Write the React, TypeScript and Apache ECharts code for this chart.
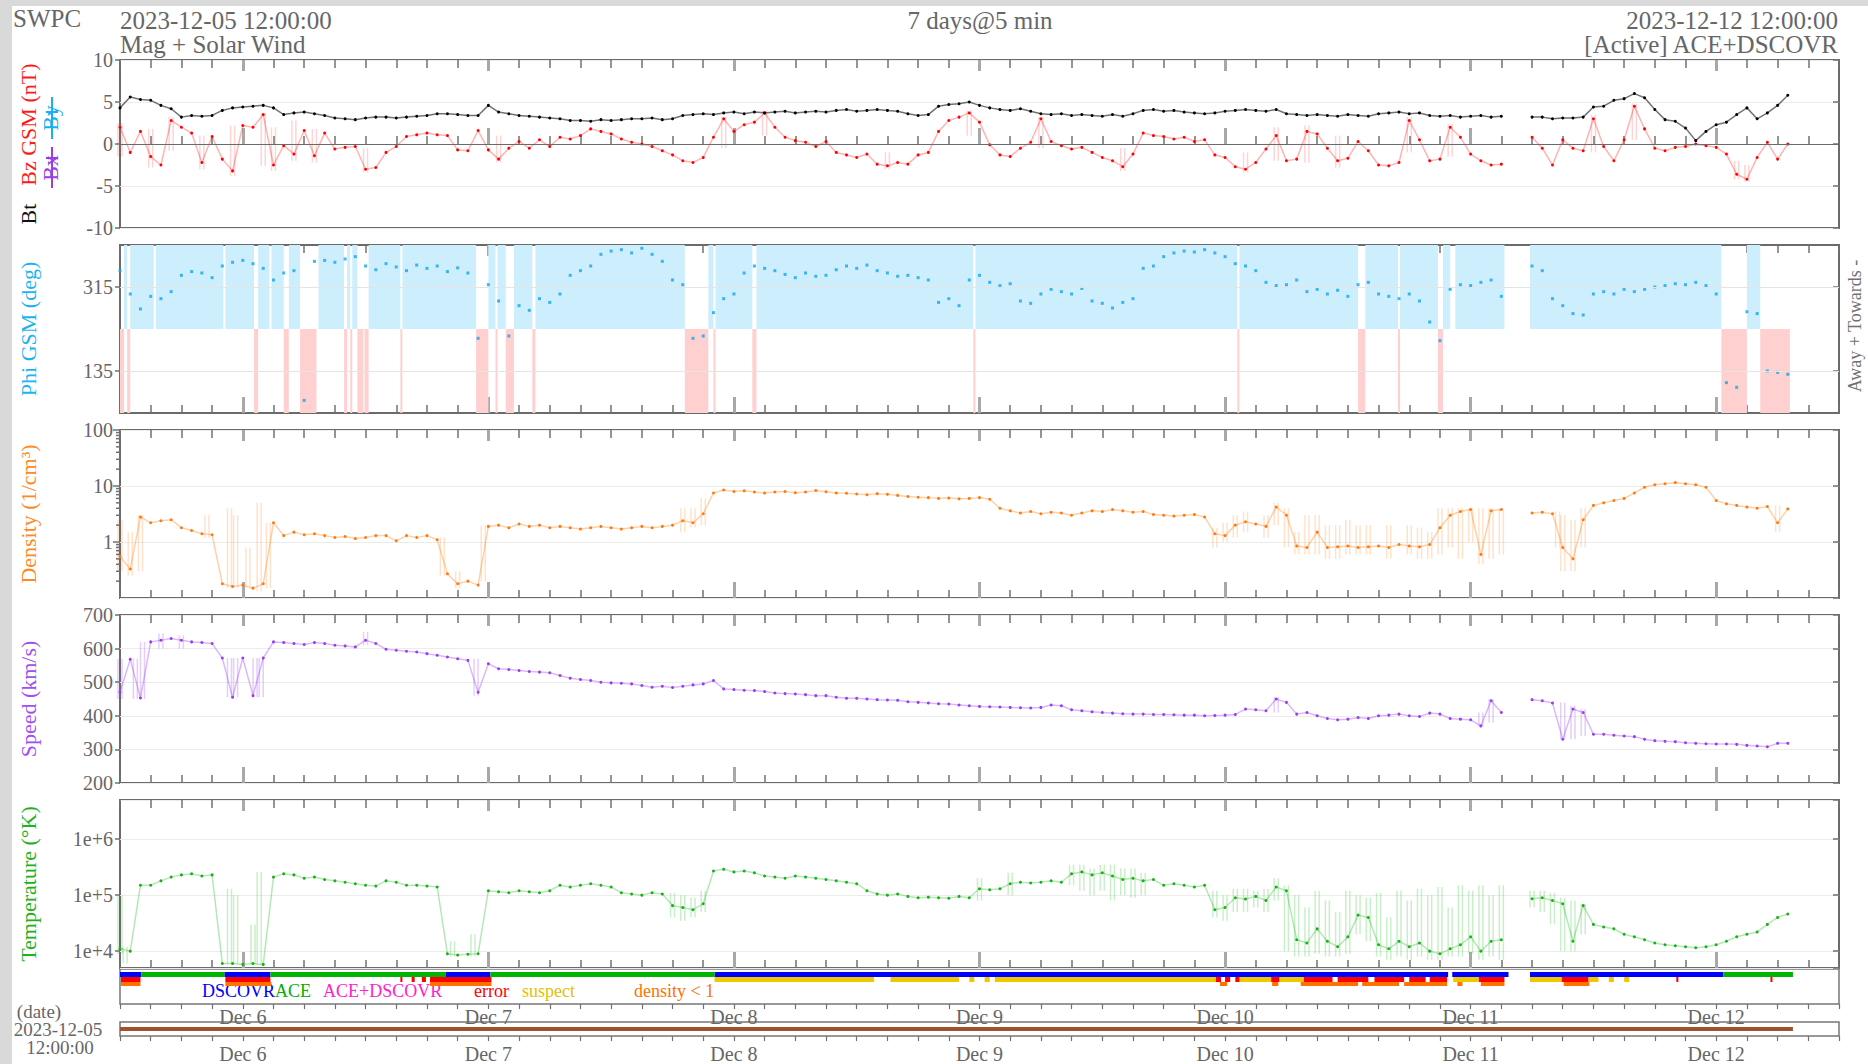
import React, { useEffect, useRef } from "react";
import * as echarts from "echarts";

const FONT = "'Liberation Serif', 'DejaVu Serif', serif";
const TXT = "#666666";

// x axis unit: hours since 2023-12-05 00:00
const START_HOUR = 12; // 2023-12-05 12:00
const END_HOUR = 180; // 2023-12-12 12:00
const dayTickHours = [24, 48, 72, 96, 120, 144, 168];
const dayLabels = ["Dec 6", "Dec 7", "Dec 8", "Dec 9", "Dec 10", "Dec 11", "Dec 12"];
const threeHourTicks: number[] = [];
for (let h = START_HOUR; h <= END_HOUR; h += 3) threeHourTicks.push(h);
const densityMinorTicks = [0.2, 0.3, 0.4, 0.5, 0.6, 0.7, 0.8, 0.9, 2, 3, 4, 5, 6, 7, 8, 9, 20, 30, 40, 50, 60, 70, 80, 90];

// hourly samples starting 2023-12-05 12:00 (index = hours after start)
const btValues = [
  4.3, 5.6, 5.3, 5.2, 4.6, 4.2, 3.2, 3.4, 3.3, 3.4,
  4.0, 4.3, 4.4, 4.5, 4.6, 4.3, 3.5, 3.7, 3.8, 3.6,
  3.4, 3.1, 3.0, 2.9, 3.1, 3.2, 3.2, 3.1, 3.2, 3.3,
  3.4, 3.6, 3.6, 3.5, 3.4, 3.4, 4.6, 3.8, 3.6, 3.4,
  3.3, 3.2, 3.1, 3.0, 2.8, 2.8, 2.7, 2.9, 2.8, 2.9,
  3.0, 3.0, 3.1, 2.9, 3.0, 3.4, 3.5, 3.6, 3.5, 3.7,
  3.8, 3.6, 3.8, 3.7, 3.8, 3.9, 3.7, 3.8, 3.9, 3.8,
  4.0, 4.1, 3.9, 4.0, 4.1, 4.0, 3.9, 3.6, 3.4, 3.5,
  4.5, 4.7, 4.8, 5.0, 4.6, 4.3, 4.1, 4.0, 4.2, 3.9,
  3.6, 3.5, 3.6, 3.4, 3.5, 3.4, 3.3, 3.5, 3.3, 3.6,
  4.0, 4.1, 3.9, 4.0, 3.8, 3.7, 3.6, 3.7, 3.9, 4.0,
  4.1, 4.0, 3.9, 4.1, 3.6, 3.5, 3.4, 3.5, 3.4, 3.3,
  3.5, 3.4, 3.3, 3.6, 3.7, 3.8, 3.6, 3.7, 3.4, 3.3,
  3.4, 3.2, 3.3, 3.4, 3.2, 3.3, null, null, 3.2, 3.2,
  3.0, 3.1, 3.1, 3.2, 4.4, 4.5, 5.2, 5.4, 6.0, 5.5,
  4.1, 2.9, 2.7, 1.9, 0.4, 1.5, 2.3, 2.6, 3.5, 4.3,
  3.0, 3.7, 4.6, 5.8,
];

const bzValues = [
  2.0, -1.0, 1.5, -1.5, -2.5, 2.8, 2.0, 1.3, -2.2, 0.9,
  -1.8, -3.2, 2.2, 2.0, 3.5, -2.5, -0.2, -1.2, 1.6, -1.4,
  1.3, -0.6, -0.4, -0.3, -3.0, -2.8, -1.0, -0.3, 0.9, 1.1,
  1.3, 1.1, 1.0, -0.7, -0.8, 1.6, -0.7, -1.8, -0.5, 0.3,
  -0.5, 0.5, -0.3, 0.8, 0.6, 1.0, 1.8, 1.5, 1.2, 0.6,
  0.2, 0.0, -0.3, -0.8, -1.3, -2.0, -2.2, -1.6, 0.8, 3.0,
  1.5, 2.3, 2.6, 3.7, 2.0, 0.8, 0.4, 0.2, -0.3, 0.3,
  -1.0, -1.3, -1.6, -1.2, -2.4, -2.6, -2.2, -2.4, -1.3, -1.0,
  1.5, 2.8, 3.2, 3.7, 2.6, -0.1, -1.3, -1.5, -0.5, 0.2,
  3.0, 0.3, -0.2, -0.6, -0.4, -1.0, -1.6, -2.0, -2.7, -1.2,
  1.3, 1.0, 0.9, 0.6, 0.8, 0.3, 0.5, -1.3, -1.6, -2.7,
  -3.0, -2.2, -0.6, 1.0, -2.0, -1.8, 1.5, 1.2, -0.5, -2.0,
  -1.7, 0.3, -0.8, -2.5, -2.6, -2.2, 2.8, 0.5, -2.0, -1.8,
  2.0, 0.8, -1.2, -2.0, -2.5, -2.4, null, null, 0.8, -0.5,
  -2.5, 0.5, -0.5, -0.8, 3.0, -0.3, -2.0, 0.5, 4.5, 1.8,
  -0.5, -0.8, -0.4, -0.3, 0.0, -0.2, -0.4, -1.2, -3.6, -4.2,
  -1.6, 0.2, -1.8, 0.0,
];

// Bz excursions seen as pale swings: [hour, low, high]
const bzRange = [
  [0, -1.5, 2.5], [3, -2.8, 1.8], [5, -0.8, 3.2], [8, -3.0, 1.0], [11, -3.8, 2.2], [14, -2.6, 3.6],
  [15, -3.2, 2.0], [17, -2.0, 2.8], [19, -2.2, 1.8], [24, -3.4, -0.5], [37, -2.2, 1.0], [59, -0.5, 3.2],
  [63, 1.0, 4.0], [75, -3.0, -1.0], [83, 1.0, 4.0], [90, -0.5, 3.2], [98, -3.2, -0.5], [110, -3.4, -1.0],
  [113, -2.0, 2.0], [116, -2.2, 2.2], [119, -2.8, 1.0], [126, -1.0, 3.2], [130, -1.5, 2.4],
  [144, -1.0, 3.5], [148, 0.5, 4.8], [158, -4.2, -2.0], [159, -4.5, -2.5],
];

const phiValues = [
  350, 300, 268, 295, 290, 305, 340, 348, 345, 335,
  360, 368, 372, 365, 355, 330, 345, 350, 72, 370,
  372, 368, 375, 380, 360, 352, 365, 358, 350, 362,
  355, 360, 348, 356, 345, 205, 320, 285, 210, 275,
  265, 290, 282, 300, 340, 350, 360, 385, 392, 395,
  388, 398, 385, 370, 330, 320, 205, 210, 260, 290,
  300, 345, 360, 355, 350, 342, 335, 345, 338, 340,
  352, 360, 355, 362, 350, 345, 338, 340, 335, 330,
  282, 290, 275, 330, 340, 325, 318, 322, 285, 280,
  300, 310, 305, 300, 312, 285, 280, 270, 282, 290,
  355, 360, 380, 388, 392, 390, 395, 388, 380, 365,
  360, 350, 325, 318, 320, 330, 305, 310, 300, 308,
  295, 320, 325, 300, 295, 290, 300, 285, 240, 200,
  310, 320, 318, 325, 330, 295, null, null, 360, 350,
  290, 275, 258, 255, 300, 305, 300, 310, 305, 310,
  315, 318, 322, 320, 325, 318, 300, 110, 100, 262,
  258, 135, 132, 128,
];

// IMF sector shading intervals (hours after start)
const phiAway = [
  [0.4, 0.7], [1.0, 3.3], [3.5, 10.1], [10.3, 13.1], [13.5, 14.6], [14.8, 16.0], [16.5, 17.6],
  [19.4, 21.9], [22.2, 22.5], [22.7, 23.2], [24.3, 27.4], [27.6, 34.8], [36.0, 36.7], [36.9, 37.7],
  [38.5, 40.3], [40.6, 55.2], [57.5, 58.0], [58.2, 61.8], [62.2, 83.4], [83.6, 109.2], [109.4, 121.0],
  [121.7, 124.9], [125.1, 128.8], [129.3, 130.0], [130.5, 135.3], [137.8, 156.5], [159.0, 160.3],
];
const phiTowards = [
  [0, 0.4], [0.7, 1.0], [13.1, 13.5], [16.0, 16.5], [17.6, 19.2], [21.9, 22.2], [22.5, 22.7],
  [23.2, 23.8], [23.9, 24.3], [27.4, 27.6], [34.8, 36.0], [36.7, 36.9], [37.7, 38.5], [40.3, 40.6],
  [55.2, 57.5], [58.0, 58.2], [61.8, 62.2], [83.4, 83.6], [109.2, 109.4], [121.0, 121.7],
  [124.9, 125.1], [128.8, 129.3], [156.5, 159.0], [160.3, 163.2],
];

const densityValues = [
  0.55, 0.33, 2.8, 2.2, 2.4, 2.5, 1.8, 1.6, 1.4, 1.35,
  0.18, 0.16, 0.17, 0.15, 0.18, 2.2, 1.3, 1.5, 1.35, 1.4,
  1.3, 1.2, 1.25, 1.15, 1.2, 1.3, 1.3, 1.05, 1.3, 1.2,
  1.3, 1.1, 0.27, 0.18, 0.2, 0.17, 1.9, 2.0, 1.8, 2.1,
  1.9, 2.0, 1.8, 1.9, 1.8, 1.7, 1.8, 1.9, 1.8, 1.7,
  1.8, 1.9, 1.8, 1.9, 2.0, 2.4, 2.2, 3.2, 7.5, 8.5,
  8.0, 8.2, 7.8, 7.5, 7.8, 8.0, 7.6, 7.8, 8.3, 7.9,
  7.5, 7.4, 7.2, 7.0, 7.3, 7.1, 6.8, 6.5, 6.3, 6.2,
  6.0, 6.1, 5.9, 6.0, 6.2, 5.8, 4.0, 3.6, 3.3, 3.5,
  3.2, 3.4, 3.3, 3.0, 3.3, 3.6, 3.5, 3.8, 3.6, 3.4,
  3.5, 3.1, 3.0, 2.9, 3.0, 3.1, 2.8, 1.4, 1.3, 2.0,
  2.3, 2.1, 1.9, 4.2, 3.0, 0.85, 0.8, 1.5, 0.8, 0.82,
  0.85, 0.8, 0.82, 0.85, 0.8, 0.9, 0.85, 0.82, 0.9, 1.8,
  3.0, 3.5, 3.8, 0.6, 3.6, 3.8, null, null, 3.3, 3.4,
  3.2, 0.8, 0.5, 2.5, 4.5, 5.0, 5.5, 6.0, 7.5, 9.5,
  10.5, 11, 11.5, 11, 10.5, 9.5, 5.5, 4.8, 4.5, 4.2,
  4.0, 4.3, 2.2, 3.9,
];

const densityRange = [
  [0, 0.3, 2.5], [1, 0.25, 1.5], [2, 0.3, 3], [8.5, 1.2, 3], [10.7, 0.15, 4], [11.3, 0.15, 3],
  [12.5, 0.15, 0.8], [13.6, 0.13, 5], [14.5, 0.15, 2.2], [31.5, 0.25, 1.2], [33, 0.15, 0.3],
  [35.5, 0.2, 2], [55, 1.5, 4], [56, 1.8, 4], [57, 2, 6], [107, 0.8, 1.8], [108, 1.0, 2.2],
  [109, 1.2, 3], [110, 1.5, 3.5], [112, 1.2, 3], [113, 2, 5], [114, 0.8, 4], [115, 0.6, 1.5],
  [116, 0.6, 3], [117, 0.6, 3], [118, 0.5, 2], [119, 0.5, 2], [120, 0.6, 2.5], [121, 0.6, 2],
  [122, 0.6, 2], [124, 0.5, 2], [126, 0.6, 2], [127, 0.5, 1.8], [128, 0.5, 1.5], [129, 0.6, 4],
  [130, 0.8, 4], [131, 0.5, 4], [132, 1, 4], [133, 0.4, 4], [134, 0.5, 4], [135, 0.6, 4],
  [140.5, 0.8, 3.5], [141, 0.3, 3], [142, 0.3, 2.5], [143, 0.8, 4], [162, 1.5, 4.5],
];

const speedValues = [
  470, 568, 453, 620, 625, 630, 625, 620, 618, 615,
  572, 455, 572, 460, 572, 620, 618, 615, 612, 618,
  615, 610, 608, 605, 625, 615, 598, 595, 592, 590,
  585, 580, 575, 570, 565, 470, 555, 540, 538, 535,
  532, 530, 528, 520, 512, 508, 505, 500, 498, 497,
  495, 490, 485, 488, 484, 488, 492, 495, 505, 480,
  478, 476, 475, 472, 468, 466, 465, 463, 460, 460,
  455, 452, 452, 450, 448, 447, 446, 442, 440, 438,
  436, 435, 432, 430, 428, 427, 426, 425, 424, 423,
  425, 432, 430, 418, 415, 412, 410, 408, 406, 405,
  405, 404, 404, 403, 402, 402, 400, 401, 402, 404,
  420, 418, 415, 450, 440, 405, 410, 400, 392, 388,
  390, 395, 392, 400, 402, 405, 400, 398, 408, 405,
  392, 390, 388, 370, 445, 410, null, null, 448, 445,
  438, 330, 420, 410, 345, 345, 342, 340, 338, 330,
  326, 324, 323, 320, 318, 317, 316, 316, 315, 312,
  310, 308, 318, 318,
];

const speedRange = [
  [0, 450, 570], [1.5, 450, 570], [2.2, 450, 620], [4, 600, 645], [6, 600, 640], [10.7, 455, 572],
  [11.3, 455, 572], [13.2, 455, 572], [13.8, 455, 572], [24, 610, 650], [34.8, 460, 570],
  [113, 410, 455], [133, 370, 410], [134, 380, 450], [141, 330, 440], [142, 330, 430], [143, 340, 420],
];

const temperatureValues = [
  1.1e4, 1.0e4, 1.5e5, 1.5e5, 1.8e5, 2.1e5, 2.3e5, 2.4e5, 2.2e5, 2.3e5,
  6000, 6000, 5800, 6000, 5800, 2.1e5, 2.4e5, 2.3e5, 2.0e5, 2.1e5,
  1.9e5, 1.8e5, 1.7e5, 1.6e5, 1.5e5, 1.45e5, 1.8e5, 1.7e5, 1.5e5, 1.5e5,
  1.45e5, 1.4e5, 9000, 8500, 8800, 9000, 1.2e5, 1.15e5, 1.1e5, 1.2e5,
  1.15e5, 1.1e5, 1.2e5, 1.5e5, 1.4e5, 1.5e5, 1.6e5, 1.5e5, 1.4e5, 1.1e5,
  1.05e5, 1.0e5, 1.1e5, 1.05e5, 6.5e4, 6.0e4, 5.5e4, 7.0e4, 2.7e5, 2.9e5,
  2.6e5, 2.7e5, 2.5e5, 2.2e5, 2.1e5, 2.0e5, 2.2e5, 2.1e5, 2.0e5, 1.9e5,
  1.8e5, 1.7e5, 1.6e5, 1.2e5, 1.05e5, 1.0e5, 1.05e5, 9.5e4, 9.0e4, 9.2e4,
  9.0e4, 8.8e4, 9.5e4, 9.0e4, 1.3e5, 1.25e5, 1.3e5, 1.6e5, 1.7e5, 1.65e5,
  1.7e5, 1.8e5, 1.7e5, 2.4e5, 2.6e5, 2.3e5, 2.5e5, 2.2e5, 1.9e5, 2.0e5,
  1.8e5, 1.9e5, 1.5e5, 1.6e5, 1.5e5, 1.4e5, 1.5e5, 5.5e4, 6.0e4, 9.0e4,
  8.5e4, 9.5e4, 8.0e4, 1.4e5, 1.2e5, 1.6e4, 1.4e4, 2.5e4, 1.5e4, 1.2e4,
  1.8e4, 4.4e4, 4.0e4, 1.3e4, 1.1e4, 1.5e4, 1.2e4, 1.4e4, 1.0e4, 9.0e3,
  1.1e4, 1.3e4, 1.8e4, 1.0e4, 1.5e4, 1.6e4, null, null, 8.6e4, 9.0e4,
  8.0e4, 7.0e4, 1.5e4, 6.5e4, 3.0e4, 2.7e4, 2.5e4, 2.0e4, 1.8e4, 1.6e4,
  1.4e4, 1.3e4, 1.25e4, 1.2e4, 1.15e4, 1.2e4, 1.3e4, 1.5e4, 1.8e4, 2.0e4,
  2.2e4, 3.0e4, 4.0e4, 4.6e4,
];

const temperatureRange = [
  [0, 9000, 1.0e5], [0.5, 6000, 1.2e4], [10.7, 5800, 1.3e5], [11.3, 5800, 1.0e5], [13.0, 5800, 3e4],
  [13.6, 5800, 2.6e5], [32.5, 8000, 1.5e4], [34.5, 8000, 2e4], [54, 4e4, 1.1e5], [55, 3.5e4, 1e5],
  [56, 4e4, 9e4], [57, 5e4, 1.2e5], [84, 8e4, 2e5], [87, 1e5, 2.5e5], [93, 1.5e5, 3.5e5],
  [94, 1.2e5, 3.5e5], [95, 1.0e5, 3e5], [96, 1.2e5, 3.5e5], [97, 8e4, 3.5e5], [98, 1e5, 3e5],
  [99, 9e4, 3e5], [100, 1e5, 2.5e5], [107, 4e4, 1.2e5], [108, 3.5e4, 1e5], [109, 5e4, 1.3e5],
  [110, 5e4, 1.3e5], [111, 6e4, 1.2e5], [112, 5e4, 1.3e5], [113, 8e4, 2e5], [114, 1e4, 1.5e5],
  [115, 8000, 1e5], [116, 8000, 6e4], [117, 9000, 1.2e5], [118, 8000, 8e4], [119, 8000, 5e4],
  [120, 9000, 1.2e5], [121, 2e4, 1e5], [122, 1.5e4, 9e4], [123, 8000, 1.1e5], [124, 7000, 4e4],
  [125, 8000, 1.2e5], [126, 7000, 8e4], [127, 8000, 1.3e5], [128, 7000, 1e5], [129, 7000, 1.4e5],
  [130, 8000, 6e4], [131, 8000, 1.5e5], [132, 9000, 1.2e5], [133, 7000, 1.5e5], [134, 8000, 1e5],
  [135, 7000, 1.5e5], [138, 6e4, 1.2e5], [139, 5e4, 1.2e5], [140, 3e4, 1.1e5], [141, 1e4, 9e4],
  [142, 1e4, 8e4], [143, 2e4, 7e4],
];

// spacecraft source and data quality intervals (hours after start)
const sourceDscovr = [[0, 2.1], [10.2, 14.7], [31.8, 36.2], [58.1, 129.8], [130.2, 135.7], [137.8, 156.7]];
const sourceAce = [[2.1, 10.2], [14.7, 31.8], [36.2, 58.1], [156.7, 163.5]];
const flagSuspect = [
  [58.1, 73.7], [75.3, 82.0], [83.0, 83.5], [84.5, 85.0], [85.5, 107.1], [109.4, 112.5],
  [113.3, 115.7], [130.3, 132.8], [137.8, 140.9], [143.5, 144.5], [145.5, 146.0], [147.0, 147.5],
];
const flagError = [
  [0.1, 2.0], [10.3, 14.7], [27.4, 27.6], [28.5, 28.8], [29.5, 29.9], [30.3, 36.3], [107.1, 107.6],
  [108.0, 108.5], [109.0, 109.4], [112.5, 113.3], [115.7, 118.5], [119.0, 122.0], [122.6, 125.5],
  [126.0, 127.6], [128.0, 129.7], [132.8, 135.3], [140.9, 143.5], [152.1, 152.3], [161.3, 161.5],
];
const flagLowDensity = [
  [0.1, 2.0], [10.3, 14.8], [30.3, 36.3], [107.5, 108.2], [112.6, 113.2], [115.4, 121.0],
  [121.4, 125.0], [125.5, 129.7], [130.7, 131.2], [133.0, 135.3], [141.1, 143.6],
];
const dateCoverage = [0, 163.5];

const GRID_LEFT = 120;
const GRID_WIDTH = 1719;
const PANEL_TOPS = [60, 245, 430, 615, 800];
const PANEL_H = 168;

function pairs(vals: (number | null)[]) {
  return vals.map((v, i) => [START_HOUR + i, v]);
}

function buildOption() {
  const grids: any[] = PANEL_TOPS.map((top) => ({
    left: GRID_LEFT, top, width: GRID_WIDTH, height: PANEL_H, show: true,
    borderColor: "#6b6b6b", borderWidth: 2, backgroundColor: "transparent",
  }));
  grids.push({ left: GRID_LEFT, top: 969, width: GRID_WIDTH, height: 35, show: true, borderColor: "#777", borderWidth: 1.5, backgroundColor: "transparent" });
  grids.push({ left: GRID_LEFT, top: 1022, width: GRID_WIDTH, height: 14, show: true, borderColor: "#777", borderWidth: 1.5, backgroundColor: "transparent" });

  const xAxes: any[] = [];
  const mainX: number[] = [];
  const baseX = (gi: number) => ({
    type: "value", gridIndex: gi, min: START_HOUR, max: END_HOUR,
    axisLine: { show: false }, splitLine: { show: false }, axisLabel: { show: false },
  });
  const tick = (values: number[], len: number, inside: boolean, color: string, width: number) => ({
    show: true, inside, length: len, customValues: values, lineStyle: { color, width },
  });
  for (let gi = 0; gi < 5; gi++) {
    mainX.push(xAxes.length);
    xAxes.push({ ...baseX(gi), position: "bottom", axisTick: tick(threeHourTicks, 8, true, "#707070", 1.5) });
    xAxes.push({ ...baseX(gi), position: "bottom", axisTick: tick(dayTickHours, 16, true, "#a8a8a8", 3) });
    xAxes.push({ ...baseX(gi), position: "top", axisTick: tick(threeHourTicks, 8, true, "#707070", 1.5) });
    xAxes.push({ ...baseX(gi), position: "top", axisTick: tick(dayTickHours, 11, true, "#a8a8a8", 3) });
  }
  const dayLabel = (margin: number) => ({
    show: true, customValues: dayTickHours, margin, fontSize: 20, fontFamily: FONT, color: TXT,
    formatter: (v: number) => dayLabels[dayTickHours.indexOf(Math.round(v))] || "",
  });
  mainX.push(xAxes.length);
  xAxes.push({ ...baseX(5), position: "bottom", axisTick: tick(threeHourTicks, 5, false, "#707070", 1.2), axisLabel: dayLabel(3) });
  mainX.push(xAxes.length);
  xAxes.push({ ...baseX(6), position: "bottom", axisTick: tick(threeHourTicks, 5, false, "#707070", 1.2), axisLabel: dayLabel(8) });

  const yAxes: any[] = [];
  const leftY: number[] = [];
  const labelStyle = { color: TXT, fontSize: 20, fontFamily: FONT, margin: 7 };
  const leftTick = { show: true, inside: false, length: 5, lineStyle: { color: "#707070", width: 1.5 } };
  const rightTick = { show: true, inside: true, length: 6, lineStyle: { color: "#707070", width: 1.5 } };
  const split = { show: true, lineStyle: { color: "#ececec", width: 1 } };
  const nameCommon = (name: string, color: string) => ({
    name, nameLocation: "middle", nameGap: 81, nameRotate: 90,
    nameTextStyle: { color, fontSize: 22, fontFamily: FONT },
  });

  // panel 1: Bt / Bz
  leftY[0] = yAxes.length;
  yAxes.push({
    type: "value", gridIndex: 0, position: "left", min: -10, max: 10, interval: 5,
    axisLine: { show: false }, axisTick: leftTick, axisLabel: labelStyle, splitLine: split,
    name: "{k|Bt}{s| }{r|Bz GSM (nT)}", nameLocation: "middle", nameGap: 81, nameRotate: 90,
    nameTextStyle: {
      fontSize: 22, fontFamily: FONT,
      rich: {
        k: { color: "#111", fontSize: 22, fontFamily: FONT },
        s: { width: 18, fontSize: 22 },
        r: { color: "#ff1a1a", fontSize: 22, fontFamily: FONT },
      },
    },
  });
  yAxes.push({ type: "value", gridIndex: 0, position: "right", min: -10, max: 10, interval: 5, axisLine: { show: false }, axisTick: rightTick, axisLabel: { show: false }, splitLine: { show: false } });

  // panel 2: Phi
  leftY[1] = yAxes.length;
  yAxes.push({
    type: "value", gridIndex: 1, position: "left", min: 45, max: 405,
    axisLine: { show: false }, axisTick: { ...leftTick, customValues: [135, 315] },
    axisLabel: { ...labelStyle, customValues: [135, 315] }, splitLine: { show: false },
    ...nameCommon("Phi GSM (deg)", "#1ab4f2"),
  });
  yAxes.push({ type: "value", gridIndex: 1, position: "right", min: 45, max: 405, axisLine: { show: false }, axisTick: { ...rightTick, customValues: [135, 315] }, axisLabel: { show: false }, splitLine: { show: false } });

  // panel 3: density (log)
  leftY[2] = yAxes.length;
  yAxes.push({
    type: "log", logBase: 10, gridIndex: 2, position: "left", min: 0.1, max: 100,
    axisLine: { show: false }, axisTick: { ...leftTick, length: 7 },
    axisLabel: { ...labelStyle, showMinLabel: false, formatter: (v: number) => String(Math.round(v * 1000) / 1000) },
    splitLine: split,
    ...nameCommon("Density (1/cm\u00b3)", "#ff8a24"),
  });
  yAxes.push({ type: "log", logBase: 10, gridIndex: 2, position: "right", min: 0.1, max: 100, axisLine: { show: false }, axisTick: rightTick, axisLabel: { show: false }, splitLine: { show: false } });

  // panel 4: speed
  leftY[3] = yAxes.length;
  yAxes.push({
    type: "value", gridIndex: 3, position: "left", min: 200, max: 700, interval: 100,
    axisLine: { show: false }, axisTick: leftTick, axisLabel: labelStyle, splitLine: split,
    ...nameCommon("Speed (km/s)", "#a04ff0"),
  });
  yAxes.push({ type: "value", gridIndex: 3, position: "right", min: 200, max: 700, interval: 100, axisLine: { show: false }, axisTick: rightTick, axisLabel: { show: false }, splitLine: { show: false } });

  // panel 5: temperature (log)
  leftY[4] = yAxes.length;
  yAxes.push({
    type: "log", logBase: 10, gridIndex: 4, position: "left", min: 5000, max: 5000000,
    axisLine: { show: false }, axisTick: leftTick,
    axisLabel: { ...labelStyle, showMinLabel: false, showMaxLabel: false, formatter: (v: number) => Number(v).toExponential(0) },
    splitLine: split,
    ...nameCommon("Temperature (\u00b0K)", "#20b020"),
  });
  yAxes.push({ type: "log", logBase: 10, gridIndex: 4, position: "right", min: 5000, max: 5000000, axisLine: { show: false }, axisTick: rightTick, axisLabel: { show: false }, splitLine: { show: false } });

  // status + date panels
  leftY[5] = yAxes.length;
  yAxes.push({ type: "value", gridIndex: 5, min: 0, max: 1, show: false });
  leftY[6] = yAxes.length;
  yAxes.push({ type: "value", gridIndex: 6, min: 0, max: 1, show: false });

  const lineSeries = (gi: number, data: any[], dot: string, line: string, z = 3) => ({
    type: "line", xAxisIndex: mainX[gi], yAxisIndex: leftY[gi], data,
    connectNulls: false, symbol: "circle", symbolSize: 3, showSymbol: true,
    itemStyle: { color: dot }, lineStyle: { color: line, width: 1.5 }, z, silent: true,
  });

  const rangeSeries = (gi: number, data: number[][], color: string) => ({
    type: "custom", xAxisIndex: mainX[gi], yAxisIndex: leftY[gi], z: 2, silent: true,
    data: data.map(([h, lo, hi]) => [START_HOUR + h, lo, hi]),
    encode: { x: 0, y: [1, 2] },
    renderItem: (params: any, api: any) => {
      const a = api.coord([api.value(0), api.value(1)]);
      const b = api.coord([api.value(0), api.value(2)]);
      return {
        type: "group",
        children: [
          { type: "line", shape: { x1: a[0] - 2, y1: a[1], x2: a[0] - 2, y2: b[1] }, style: { stroke: color, lineWidth: 1.5 } },
          { type: "line", shape: { x1: a[0] + 2, y1: a[1], x2: a[0] + 2, y2: b[1] }, style: { stroke: color, lineWidth: 1.5 } },
        ],
      };
    },
  });

  const statusColors = ["#0000ff", "#00b400", "#f0c800", "#ff0000", "#ff7200"];
  const rowTop = [3, 3, 8, 8, 13];
  const rowH = [5, 5, 5, 5, 4];
  const statusData: any[] = [];
  sourceDscovr.forEach(([s, e]) => statusData.push([START_HOUR + s, START_HOUR + e, 0]));
  sourceAce.forEach(([s, e]) => statusData.push([START_HOUR + s, START_HOUR + e, 1]));
  flagSuspect.forEach(([s, e]) => statusData.push([START_HOUR + s, START_HOUR + e, 2]));
  flagError.forEach(([s, e]) => statusData.push([START_HOUR + s, START_HOUR + e, 3]));
  flagLowDensity.forEach(([s, e]) => statusData.push([START_HOUR + s, START_HOUR + e, 4]));

  const sectorData: any[] = [];
  phiAway.forEach(([s, e]) => sectorData.push([START_HOUR + s, START_HOUR + e, 0]));
  phiTowards.forEach(([s, e]) => sectorData.push([START_HOUR + s, START_HOUR + e, 1]));

  const series: any[] = [
    rangeSeries(0, bzRange, "rgba(255,60,60,0.22)"),
    {
      ...lineSeries(0, pairs(bzValues), "#ff0000", "rgba(255,40,40,0.35)", 3),
      markLine: { silent: true, symbol: "none", label: { show: false }, lineStyle: { color: "#6a6a6a", width: 1, type: "solid" }, data: [{ yAxis: 0 }] },
    },
    lineSeries(0, pairs(btValues), "#000000", "rgba(0,0,0,0.55)", 4),
    {
      type: "custom", xAxisIndex: mainX[1], yAxisIndex: leftY[1], data: sectorData, z: 1, silent: true,
      encode: { x: [0, 1] },
      renderItem: (params: any, api: any) => {
        const sec = api.value(2);
        const hi = sec === 0 ? 405 : 225;
        const lo = sec === 0 ? 225 : 45;
        const p1 = api.coord([api.value(0), hi]);
        const p2 = api.coord([api.value(1), lo]);
        return {
          type: "rect",
          shape: { x: p1[0], y: p1[1], width: Math.max(p2[0] - p1[0], 1.5), height: p2[1] - p1[1] },
          style: { fill: sec === 0 ? "#cdeefc" : "#ffd0d0" },
        };
      },
    },
    {
      type: "scatter", xAxisIndex: mainX[1], yAxisIndex: leftY[1], data: pairs(phiValues),
      symbol: "rect", symbolSize: 3, itemStyle: { color: "#12a6ec" }, z: 3, silent: true,
      markLine: { silent: true, symbol: "none", label: { show: false }, lineStyle: { color: "#e4e4e4", width: 1, type: "solid" }, data: [{ yAxis: 135 }, { yAxis: 315 }] },
    },
    rangeSeries(2, densityRange, "rgba(255,150,60,0.28)"),
    lineSeries(2, pairs(densityValues), "#ff7a10", "rgba(255,140,40,0.4)"),
    {
      type: "custom", xAxisIndex: mainX[2], yAxisIndex: leftY[2], z: 5, silent: true, clip: false,
      data: densityMinorTicks.map((v) => [START_HOUR, v]),
      encode: { x: 0, y: 1 },
      renderItem: (params: any, api: any) => {
        const p = api.coord([api.value(0), api.value(1)]);
        return { type: "line", shape: { x1: p[0] - 4, y1: p[1], x2: p[0], y2: p[1] }, style: { stroke: "#707070", lineWidth: 1.5 } };
      },
    },
    rangeSeries(3, speedRange, "rgba(160,80,240,0.28)"),
    lineSeries(3, pairs(speedValues), "#9a3cf0", "rgba(160,80,240,0.4)"),
    rangeSeries(4, temperatureRange, "rgba(40,190,40,0.25)"),
    lineSeries(4, pairs(temperatureValues), "#18b018", "rgba(40,190,40,0.35)"),
    {
      type: "custom", xAxisIndex: mainX[5], yAxisIndex: leftY[5], data: statusData, z: 3, silent: true,
      encode: { x: [0, 1] },
      renderItem: (params: any, api: any) => {
        const k = api.value(2);
        const a = api.coord([api.value(0), 0]);
        const b = api.coord([api.value(1), 0]);
        const cs = params.coordSys;
        return {
          type: "rect",
          shape: { x: a[0], y: cs.y + rowTop[k], width: Math.max(b[0] - a[0], 1.5), height: rowH[k] },
          style: { fill: statusColors[k] },
        };
      },
    },
    {
      type: "line", xAxisIndex: mainX[6], yAxisIndex: leftY[6],
      data: [[START_HOUR + dateCoverage[0], 0.5], [START_HOUR + dateCoverage[1], 0.5]],
      symbol: "none", lineStyle: { color: "#a0522d", width: 4 }, silent: true,
    },
  ];

  const txt = (text: string, x: number, y: number, size: number, color: string, align = "left", rotation = 0) => ({
    type: "text", x, y, rotation, silent: true,
    style: { text, fill: color, font: `${size}px ${FONT}`, align, textAlign: align, verticalAlign: "middle", textVerticalAlign: "middle" },
  });

  const graphic: any[] = [
    { type: "rect", silent: true, shape: { x: 0, y: 0, width: 12, height: 1064 }, style: { fill: "#d9d9d9" } },
    { type: "rect", silent: true, shape: { x: 0, y: 0, width: 1868, height: 6 }, style: { fill: "#d9d9d9" } },
    txt("SWPC", 13, 18, 25, TXT),
    txt("2023-12-05 12:00:00", 120, 20, 25, TXT),
    txt("Mag + Solar Wind", 120, 44, 25, TXT),
    txt("7 days@5 min", 980, 20, 25, TXT, "center"),
    txt("2023-12-12 12:00:00", 1838, 20, 25, TXT, "right"),
    txt("[Active] ACE+DSCOVR", 1838, 44, 25, TXT, "right"),
    // Bx / By legend samples
    { type: "line", silent: true, shape: { x1: 52, y1: 97, x2: 52, y2: 139 }, style: { stroke: "#18b0f4", lineWidth: 2 } },
    { type: "line", silent: true, shape: { x1: 46, y1: 112, x2: 58, y2: 112 }, style: { stroke: "#18b0f4", lineWidth: 2 } },
    txt("By", 50, 118, 22, "#18b0f4", "center", Math.PI / 2),
    { type: "line", silent: true, shape: { x1: 52, y1: 147, x2: 52, y2: 188 }, style: { stroke: "#9a3ce8", lineWidth: 2 } },
    { type: "line", silent: true, shape: { x1: 46, y1: 158, x2: 58, y2: 158 }, style: { stroke: "#9a3ce8", lineWidth: 2 } },
    txt("Bx", 50, 168, 22, "#9a3ce8", "center", Math.PI / 2),
    txt("Away + Towards -", 1855, 326, 18, "#707070", "center", Math.PI / 2),
    // status legend
    txt("DSCOVR", 202, 991, 18, "#0000ff"),
    txt("ACE", 275, 991, 18, "#00b000"),
    txt("ACE+DSCOVR", 323, 991, 18, "#ff22cc"),
    txt("error", 474, 991, 18, "#ff0000"),
    txt("suspect", 522, 991, 18, "#e6c000"),
    txt("density < 1", 634, 991, 18, "#ff7200"),
    // date caption
    txt("(date)", 39, 1011, 19, TXT, "center"),
    txt("2023-12-05", 58, 1029, 19, TXT, "center"),
    txt("12:00:00", 60, 1047, 19, TXT, "center"),
  ];

  return {
    animation: false,
    backgroundColor: "#ffffff",
    grid: grids,
    xAxis: xAxes,
    yAxis: yAxes,
    series,
    graphic,
  };
}

export default function App() {
  const ref = useRef<HTMLDivElement>(null);
  useEffect(() => {
    if (!ref.current) return;
    const chart = echarts.init(ref.current, null, { renderer: "svg" });
    chart.setOption(buildOption() as any);
    return () => chart.dispose();
  }, []);
  return (
    <div
      ref={ref}
      style={{ position: "fixed", left: 0, top: 0, width: 1868, height: 1064, background: "#ffffff" }}
    />
  );
}
